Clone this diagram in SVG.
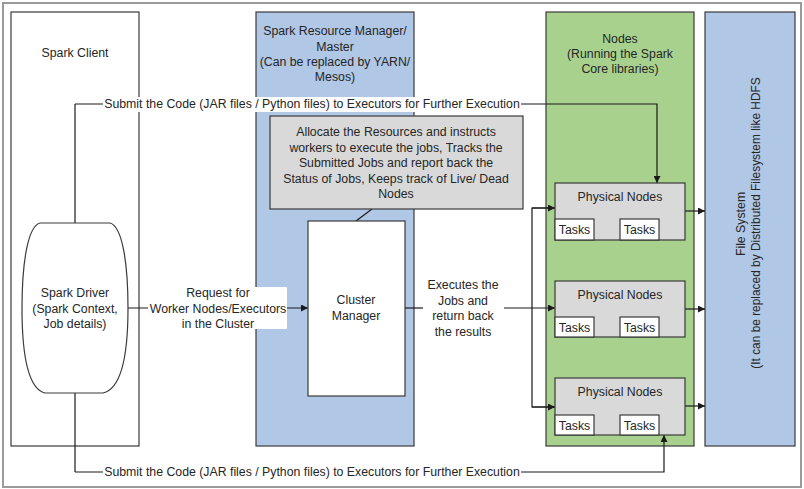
<svg xmlns="http://www.w3.org/2000/svg" width="804" height="489" viewBox="0 0 804 489">
<defs>
<marker id="ah" viewBox="0 0 10 10" refX="10" refY="5" markerWidth="7" markerHeight="7" markerUnits="userSpaceOnUse" orient="auto">
<path d="M0,0 L10,5 L0,10 Z" fill="#1a1a1a"/>
</marker>
<style>
text{font-family:"Liberation Sans",Arial,sans-serif;font-size:12.3px;fill:#262626;text-anchor:middle}
.box{stroke:#3a3a3a;stroke-width:1.2}
.ln{fill:none;stroke:#1a1a1a;stroke-width:1.2}
.arr{fill:none;stroke:#1a1a1a;stroke-width:1.2;marker-end:url(#ah)}
.blue{fill:#b1c7e6}
.green{fill:#a9d18e}
.gray{fill:#d9d9d9}
.white{fill:#ffffff}
</style>
</defs>
<rect x="0" y="0" width="804" height="489" fill="#ffffff"/>
<rect x="3" y="3" width="798" height="484" fill="none" stroke="#9a9a9a" stroke-width="2"/>

<g id="spark-client">
<rect class="box white" x="11" y="12" width="128" height="434"/>
<text x="75" y="57">Spark Client</text>
</g>

<g id="resource-manager">
<rect class="box blue" x="256" y="12" width="158" height="434"/>
<text x="335" y="35">Spark Resource Manager/</text>
<text x="335" y="51">Master</text>
<text x="335" y="66">(Can be replaced by YARN/</text>
<text x="335" y="81">Mesos)</text>
</g>

<g id="nodes">
<rect class="box green" x="546" y="12" width="148" height="434"/>
<text x="620" y="43">Nodes</text>
<text x="620" y="58">(Running the Spark</text>
<text x="620" y="73">Core libraries)</text>
</g>

<g id="file-system">
<rect class="box blue" x="705" y="12" width="90" height="434"/>
<text transform="translate(745,224) rotate(-90)">File System</text>
<text transform="translate(760,223) rotate(-90)" style="font-size:11.9px">(It can be replaced by Distributed Filesystem like HDFS</text>
</g>

<g id="connectors">
<line class="ln" x1="75" y1="223" x2="75" y2="104"/>
<line class="ln" x1="75" y1="104" x2="110" y2="104"/>
<polyline class="arr" points="515,104 657,104 657,183"/>
<line class="ln" x1="75" y1="393" x2="75" y2="472"/>
<line class="ln" x1="75" y1="472" x2="110" y2="472"/>
<polyline class="arr" points="515,472 664,472 664,435"/>
<line class="arr" x1="128" y1="308" x2="308" y2="308"/>
<line class="ln" x1="372" y1="209" x2="356" y2="221"/>
<line class="ln" x1="405" y1="308" x2="423" y2="308"/>
<line class="arr" x1="504" y1="308" x2="555" y2="308"/>
<polyline class="ln" points="555,208 532,208 532,407 555,407"/>
<line class="arr" x1="532" y1="208" x2="555" y2="208"/>
<line class="arr" x1="532" y1="407" x2="555" y2="407"/>
<line class="arr" x1="685" y1="211" x2="705" y2="211"/>
<line class="arr" x1="685" y1="309" x2="705" y2="309"/>
<line class="arr" x1="685" y1="406" x2="705" y2="406"/>
</g>

<g id="submit-top-label">
<rect class="white" x="103" y="97" width="418" height="15"/>
<text x="312" y="108">Submit the Code (JAR files / Python files) to Executors for Further Execution</text>
</g>

<g id="submit-bottom-label">
<rect class="white" x="103" y="465" width="418" height="15"/>
<text x="312" y="476">Submit the Code (JAR files / Python files) to Executors for Further Execution</text>
</g>

<g id="request-label">
<rect class="white" x="148" y="287" width="139" height="42"/>
<text x="218" y="297">Request for</text>
<text x="218" y="313">Worker Nodes/Executors</text>
<text x="218" y="328">in the Cluster</text>
</g>

<g id="executes-label">
<text x="463" y="289">Executes the</text>
<text x="463" y="305">Jobs and</text>
<text x="463" y="320">return back</text>
<text x="463" y="336">the results</text>
</g>

<g id="spark-driver">
<path class="box white" d="M40,223 L110,223 C122,226 128,262 128,308 C128,358 121,389 103,393 L45,393 C29,389 22,358 22,308 C22,262 28,226 40,223 Z"/>
<text x="75" y="297">Spark Driver</text>
<text x="75" y="313">(Spark Context,</text>
<text x="75" y="328">Job details)</text>
</g>

<g id="callout">
<rect class="box gray" x="270" y="116" width="253" height="93"/>
<text x="396" y="136">Allocate the Resources and instructs</text>
<text x="396" y="151.5">workers to execute the jobs, Tracks the</text>
<text x="396" y="167">Submitted Jobs and report back the</text>
<text x="396" y="182.5">Status of Jobs, Keeps track of Live/ Dead</text>
<text x="396" y="198">Nodes</text>
</g>

<g id="cluster-manager">
<rect class="box white" x="308" y="221" width="97" height="175"/>
<text x="356" y="304">Cluster</text>
<text x="356" y="320">Manager</text>
</g>

<g id="physical-node-1">
<rect class="box gray" x="555" y="183" width="130" height="57"/>
<text x="620" y="201">Physical Nodes</text>
<rect class="box white" x="555" y="219" width="39" height="21"/>
<text x="574.5" y="234">Tasks</text>
<rect class="box white" x="620" y="219" width="39" height="21"/>
<text x="639.5" y="234">Tasks</text>
</g>

<g id="physical-node-2">
<rect class="box gray" x="555" y="281" width="130" height="56"/>
<text x="620" y="299">Physical Nodes</text>
<rect class="box white" x="555" y="317" width="39" height="20"/>
<text x="574.5" y="332">Tasks</text>
<rect class="box white" x="620" y="317" width="39" height="20"/>
<text x="639.5" y="332">Tasks</text>
</g>

<g id="physical-node-3">
<rect class="box gray" x="555" y="378" width="130" height="57"/>
<text x="620" y="396">Physical Nodes</text>
<rect class="box white" x="555" y="415" width="39" height="20"/>
<text x="574.5" y="430">Tasks</text>
<rect class="box white" x="620" y="415" width="39" height="20"/>
<text x="639.5" y="430">Tasks</text>
</g>
</svg>
